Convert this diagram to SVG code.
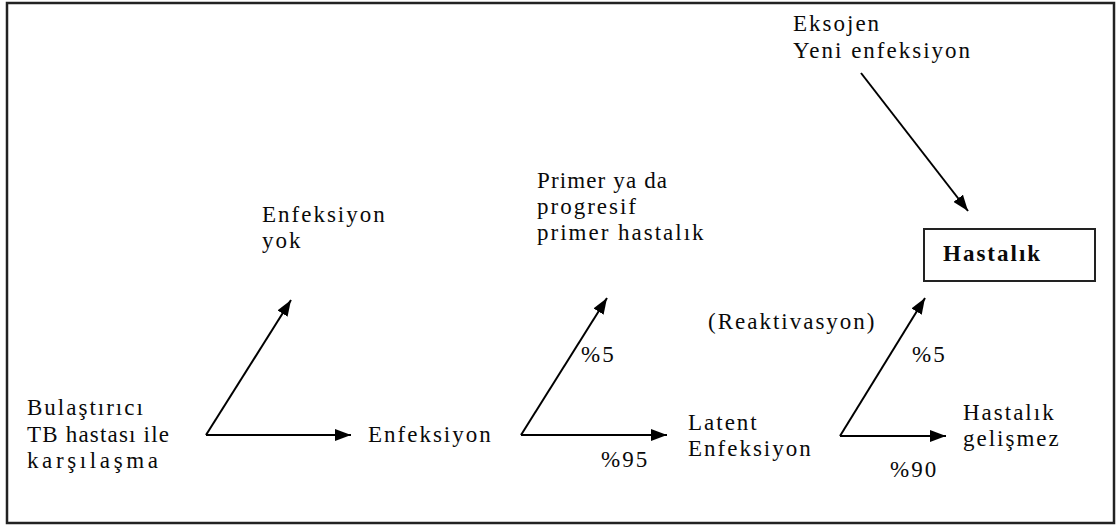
<svg xmlns="http://www.w3.org/2000/svg" width="1117" height="528" viewBox="0 0 1117 528">
<style>
text{font-family:'Liberation Serif','Times New Roman',serif;font-size:23px;fill:#0a0a0a;letter-spacing:2px}
.b{font-weight:bold}
.fit{letter-spacing:0}
.ln{stroke:#000;stroke-width:2;fill:none}
</style>
<defs>
<marker id="a" viewBox="0 0 16 12" refX="16" refY="6" markerWidth="16" markerHeight="12" markerUnits="userSpaceOnUse" orient="auto">
<path d="M0,0 L16,6 L0,12 z" fill="#000"/>
</marker>
</defs>
<rect x="0" y="0" width="1117" height="528" fill="#fff"/>
<rect x="7" y="3" width="1107" height="520" fill="none" stroke="#222" stroke-width="2.5"/>
<g id="connectors">
<path class="ln" d="M206,435 L291,300" marker-end="url(#a)"/>
<path class="ln" d="M206,435 L351,435" marker-end="url(#a)"/>
<path class="ln" d="M521,435 L607,298" marker-end="url(#a)"/>
<path class="ln" d="M521,435 L667,435" marker-end="url(#a)"/>
<path class="ln" d="M840,436 L925,298" marker-end="url(#a)"/>
<path class="ln" d="M840,436 L946,436" marker-end="url(#a)"/>
<path class="ln" d="M861,73 L968,211" marker-end="url(#a)"/>
</g>
<g id="n-eksojen"><text x="793" y="31">Eksojen</text><text x="793" y="58">Yeni enfeksiyon</text></g>
<g id="n-primer"><text class="fit" x="537" y="188" textLength="130" lengthAdjust="spacing">Primer ya da</text><text x="537" y="214">progresif</text><text x="537" y="240">primer hastalık</text></g>
<g id="n-yok"><text x="262" y="222">Enfeksiyon</text><text x="262" y="248">yok</text></g>
<g id="n-hastalik"><rect x="924" y="229" width="171" height="52" fill="#fff" stroke="#222" stroke-width="2"/><text class="b" x="943" y="261">Hastalık</text></g>
<g id="n-reakt"><text x="708" y="329">(Reaktivasyon)</text></g>
<g id="n-bulas"><text x="27" y="415">Bulaştırıcı</text><text class="fit" x="27" y="442" textLength="142" lengthAdjust="spacing">TB hastası ile</text><text class="fit" x="27" y="468" textLength="131" lengthAdjust="spacing">karşılaşma</text></g>
<g id="n-enf"><text x="368" y="442">Enfeksiyon</text></g>
<g id="n-latent"><text x="688" y="430">Latent</text><text x="688" y="456">Enfeksiyon</text></g>
<g id="n-gelismez"><text x="963" y="420">Hastalık</text><text x="963" y="446">gelişmez</text></g>
<g id="labels"><text x="581" y="362">%5</text><text x="912" y="362">%5</text><text x="601" y="467">%95</text><text x="890" y="477">%90</text></g>
</svg>
